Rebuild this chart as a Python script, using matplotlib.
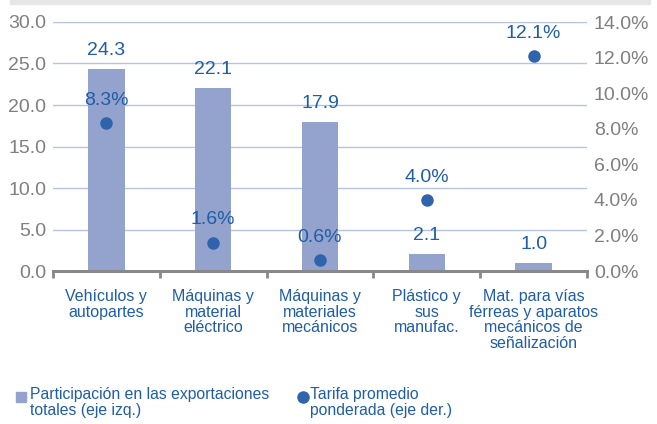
import matplotlib as mpl
mpl.use('Agg')
import matplotlib.pyplot as plt
from matplotlib.patches import Rectangle
from matplotlib.lines import Line2D
import numpy as np

plt.rcParams['font.family'] = ['Liberation Sans', 'DejaVu Sans']

categorias = ['Vehículos y\nautopartes', 'Máquinas y\nmaterial\neléctrico',
              'Máquinas y\nmateriales\nmecánicos', 'Plástico y\nsus\nmanufac.',
              'Mat. para vías\nférreas y aparatos\nmecánicos de\nseñalización']
participacion = [24.3, 22.1, 17.9, 2.1, 1.0]
tarifa = [8.3, 1.6, 0.6, 4.0, 12.1]

col_bar = '#94A3CE'
col_dot = '#2F64AC'
col_txt = '#1F5DA6'
col_tick = '#7F7F7F'
col_grid = '#B6C2E4'

W, H = 657, 424
fig = plt.figure(figsize=(W / 100, H / 100), dpi=100)
# franja gris superior
fig.patches.append(Rectangle((10 / W, 1 - 4 / H), 640 / W, 4 / H,
                             transform=fig.transFigure, color='#E6E6E6'))

ax = fig.add_axes([53 / W, 1 - 271 / H, 534 / W, 249 / H])
ax2 = ax.twinx()

x = np.arange(len(categorias))
ax.bar(x, participacion, width=0.34, color=col_bar, zorder=2)
ax.set_xlim(-0.5, len(categorias) - 0.5)
ax.set_ylim(0, 30)
ax.set_yticks(np.arange(0, 31, 5))
ax.set_yticklabels([f'{v:.1f}' for v in np.arange(0, 31, 5)])
ax.grid(axis='y', color=col_grid, lw=1, zorder=0)
ax.set_axisbelow(True)

for xi, v in zip(x, participacion):
    ax.text(xi, v + 1.2, f'{v:.1f}', ha='center', va='bottom',
            color=col_txt, fontsize=14)

ax2.plot(x, tarifa, 'o', color=col_dot, ms=8, zorder=3)
ax2.set_ylim(0, 14)
ax2.set_yticks(np.arange(0, 15, 2))
ax2.set_yticklabels([f'{v:.1f}%' for v in np.arange(0, 15, 2)])
for xi, v in zip(x, tarifa):
    ax2.text(xi, v + 0.8, f'{v:.1f}%', ha='center', va='bottom',
             color=col_txt, fontsize=14)

ax.set_xticks(np.arange(-0.5, len(categorias), 1))
ax.set_xticklabels([])
ax.set_xticks(x, minor=True)
ax.set_xticklabels(categorias, minor=True, color=col_txt, fontsize=11.5,
                   linespacing=1.05)
ax.tick_params(axis='x', which='minor', length=0, pad=13)
ax.tick_params(axis='x', which='major', length=5, width=2, color='#888888')
ax.tick_params(axis='y', length=0, labelsize=14, labelcolor=col_tick, pad=5)
ax2.tick_params(axis='y', length=0, labelsize=14, labelcolor=col_tick, pad=5)

for a in (ax, ax2):
    for s in ('top', 'left', 'right'):
        a.spines[s].set_visible(False)
    a.spines['bottom'].set_color('#888888')
    a.spines['bottom'].set_linewidth(2)

# leyenda
fig.add_artist(Line2D([21 / W], [1 - 397 / H], marker='s', ms=7,
                      color=col_bar, transform=fig.transFigure))
fig.text(30 / W, 1 - 387 / H, 'Participación en las exportaciones\ntotales (eje izq.)',
         color=col_txt, fontsize=11.3, va='top', ha='left', linespacing=1.05)
fig.add_artist(Line2D([303 / W], [1 - 397 / H], marker='o', ms=8,
                      color=col_dot, transform=fig.transFigure))
fig.text(310 / W, 1 - 387 / H, 'Tarifa promedio\nponderada (eje der.)',
         color=col_txt, fontsize=11.3, va='top', ha='left', linespacing=1.05)

fig.savefig('out.png', dpi=100)
